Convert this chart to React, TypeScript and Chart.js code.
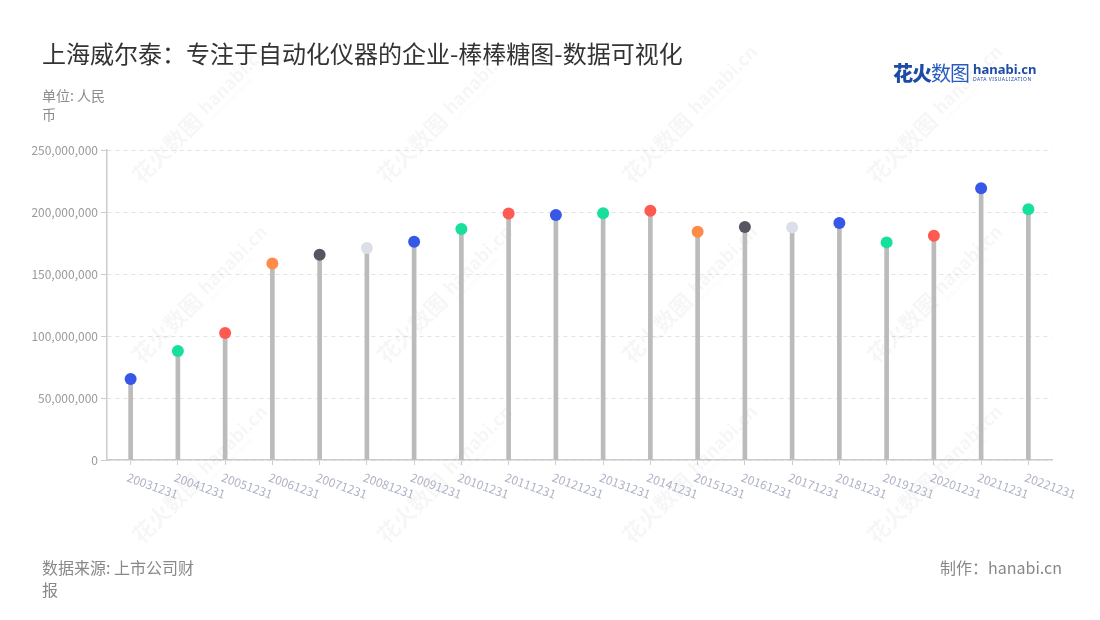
import React, { useEffect, useRef } from "react";
import { Chart, registerables } from "chart.js";
Chart.register(...registerables);

const categories = [
  "20031231", "20041231", "20051231", "20061231", "20071231",
  "20081231", "20091231", "20101231", "20111231", "20121231",
  "20131231", "20141231", "20151231", "20161231", "20171231",
  "20181231", "20191231", "20201231", "20211231", "20221231",
];

const values = [
  65300000, 87900000, 102400000, 158500000, 165600000,
  171000000, 176000000, 186300000, 198700000, 197600000,
  199000000, 201000000, 184100000, 187900000, 187600000,
  191100000, 175500000, 180900000, 219100000, 202200000,
];

const dotColors = [
  "#3657e8", "#17e09c", "#ff5a52", "#ff8b48", "#55565f",
  "#dcdfe8", "#3657e8", "#17e09c", "#ff5a52", "#3657e8",
  "#17e09c", "#ff5a52", "#ff8b48", "#55565f", "#dcdfe8",
  "#3657e8", "#17e09c", "#ff5a52", "#3657e8", "#17e09c",
];

const yMax = 250000000;
const yStep = 50000000;

const FONT = "'Noto Sans CJK SC', 'Noto Sans', sans-serif";

const watermarkPlugin = {
  id: "watermark",
  beforeDatasetsDraw(chart: any) {
    const ctx = chart.ctx;
    const cols = [150, 395, 640, 885];
    const rows = [165, 345, 525];
    ctx.save();
    for (const cy of rows) {
      for (const cx of cols) {
        ctx.save();
        ctx.translate(cx, cy);
        ctx.rotate(-Math.PI / 4);
        ctx.fillStyle = "rgba(0,0,0,0.035)";
        ctx.font = `bold 22px ${FONT}`;
        ctx.textAlign = "left";
        ctx.textBaseline = "middle";
        ctx.fillText("花火数图", -20, 0);
        ctx.font = `bold 18px ${FONT}`;
        ctx.fillText("hanabi.cn", 75, -2);
        ctx.font = `6px ${FONT}`;
        ctx.fillText("DATA VISUALIZATION", 75, 11);
        ctx.restore();
      }
    }
    ctx.restore();
  },
};

const xLabelPlugin = {
  id: "xLabels",
  afterDraw(chart: any) {
    const ctx = chart.ctx;
    const xs = chart.scales.x;
    const yBase = chart.chartArea.bottom;
    ctx.save();
    ctx.font = `12px ${FONT}`;
    ctx.fillStyle = "#aeb2c6";
    ctx.textAlign = "left";
    ctx.textBaseline = "top";
    categories.forEach((c, i) => {
      const x = xs.getPixelForValue(i);
      ctx.save();
      ctx.translate(x - 1, yBase + 11);
      ctx.rotate((20 * Math.PI) / 180);
      ctx.fillText(c, 0, 0);
      ctx.restore();
    });
    ctx.restore();
  },
};

export default function App() {
  const canvasRef = useRef<HTMLCanvasElement | null>(null);

  useEffect(() => {
    if (!canvasRef.current) return;
    const chart = new Chart(canvasRef.current, {
      type: "bar",
      data: {
        labels: categories,
        datasets: [
          {
            type: "line",
            data: values,
            showLine: false,
            pointRadius: 6,
            pointHoverRadius: 6,
            pointBorderWidth: 0,
            pointBackgroundColor: dotColors,
            pointBorderColor: dotColors,
            order: 1,
          } as any,
          {
            type: "bar",
            data: values,
            backgroundColor: "#bbbbbb",
            barThickness: 4,
            order: 2,
          },
        ],
      },
      options: {
        animation: false,
        responsive: false,
        maintainAspectRatio: false,
        layout: { padding: { top: 150, right: 48, left: 0, bottom: 0 } },
        plugins: {
          legend: { display: false },
          tooltip: { enabled: false },
        },
        scales: {
          x: {
            offset: true,
            grid: {
              display: true,
              offset: false,
              drawOnChartArea: false,
              drawTicks: true,
              tickLength: 5,
              color: "#cccccc",
            },
            border: { display: true, color: "#cccccc", width: 1.5 },
            ticks: { display: false },
            afterFit(scale: any) {
              scale.height = 160;
            },
          },
          y: {
            min: 0,
            max: yMax,
            grid: {
              color: "#e2e2e2",
              tickColor: "#cccccc",
              tickLength: 6,
              lineWidth: 1,
            },
            border: { display: true, color: "#cccccc", width: 1.5, dash: [4, 4] },
            ticks: {
              stepSize: yStep,
              color: "#9a9a9a",
              padding: 3,
              font: { size: 12, family: FONT },
              callback: (v: any) => Number(v).toLocaleString("en-US"),
            },
            afterFit(scale: any) {
              scale.width = 107;
            },
          },
        },
      },
      plugins: [watermarkPlugin, xLabelPlugin],
    });
    return () => chart.destroy();
  }, []);

  return (
    <div
      style={{
        position: "absolute",
        left: 0,
        top: 0,
        width: 1100,
        height: 620,
        background: "#ffffff",
        fontFamily: FONT,
        overflow: "hidden",
      }}
    >
      <canvas
        ref={canvasRef}
        width={1100}
        height={620}
        style={{ position: "absolute", left: 0, top: 0, width: 1100, height: 620 }}
      />
      <div
        style={{
          position: "absolute",
          left: 42,
          top: 37,
          fontSize: 24,
          color: "#333333",
          lineHeight: "32px",
          whiteSpace: "nowrap",
        }}
      >
        上海威尔泰：专注于自动化仪器的企业-棒棒糖图-数据可视化
      </div>
      <div
        style={{
          position: "absolute",
          left: 42,
          top: 86,
          width: 68,
          fontSize: 14,
          color: "#8c8c8c",
          lineHeight: "19px",
        }}
      >
        单位: 人民币
      </div>
      <div
        style={{
          position: "absolute",
          left: 893,
          top: 58,
          display: "flex",
          alignItems: "center",
          whiteSpace: "nowrap",
        }}
      >
        <span style={{ fontSize: 20, fontWeight: 900, color: "#1d4ba6", letterSpacing: -1 }}>花火</span>
        <span style={{ fontSize: 20, fontWeight: 400, color: "#2a5bc0", letterSpacing: -1 }}>数图</span>
        <span style={{ display: "inline-flex", flexDirection: "column", marginLeft: 4 }}>
          <span style={{ fontSize: 13, fontWeight: 700, color: "#1d4ba6", lineHeight: "14px", fontFamily: "'Noto Sans', sans-serif" }}>
            hanabi.cn
          </span>
          <span style={{ fontSize: 5, color: "#1d4ba6", lineHeight: "7px", letterSpacing: 0.5, fontFamily: "'Noto Sans', sans-serif" }}>
            DATA VISUALIZATION
          </span>
        </span>
      </div>
      <div
        style={{
          position: "absolute",
          left: 42,
          top: 556,
          width: 158,
          fontSize: 16,
          color: "#888888",
          lineHeight: "22px",
        }}
      >
        数据来源: 上市公司财报
      </div>
      <div
        style={{
          position: "absolute",
          right: 38,
          top: 556,
          fontSize: 16,
          color: "#888888",
          lineHeight: "22px",
          whiteSpace: "nowrap",
        }}
      >
        制作：hanabi.cn
      </div>
    </div>
  );
}
